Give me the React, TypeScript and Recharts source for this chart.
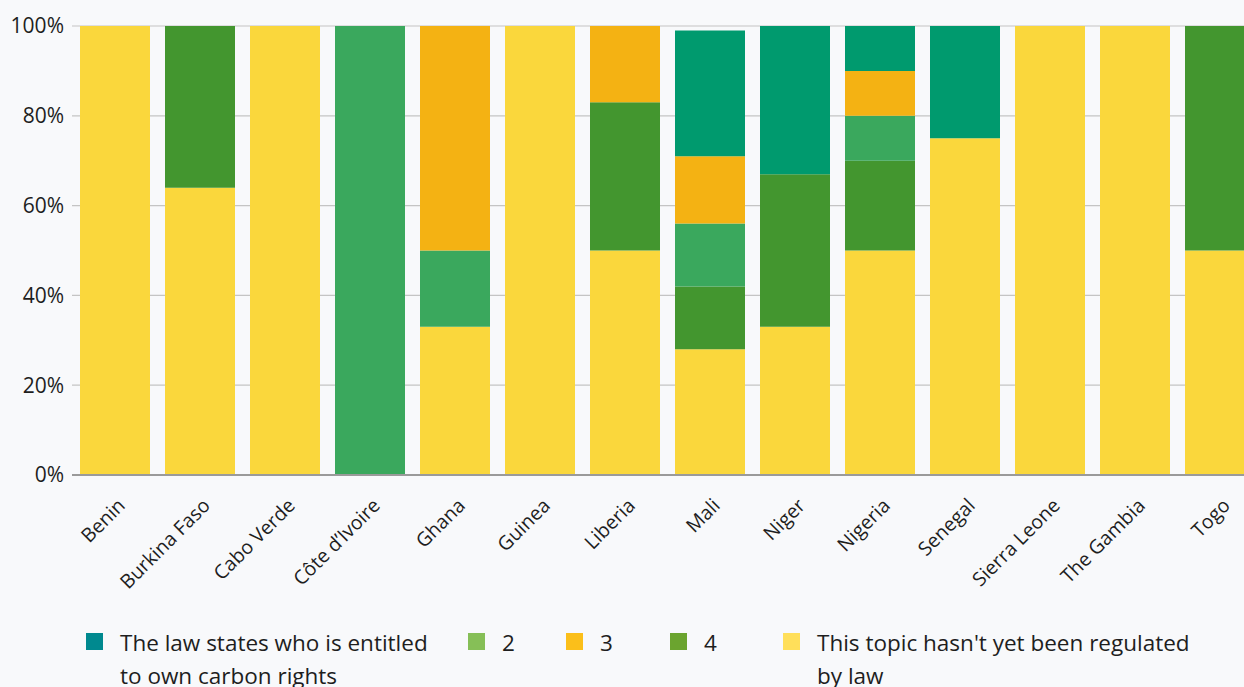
import React from 'react';
import { BarChart, Bar, XAxis, YAxis, CartesianGrid } from 'recharts';

const countries = [
  'Benin', 'Burkina Faso', 'Cabo Verde', 'Côte d’Ivoire', 'Ghana', 'Guinea', 'Liberia',
  'Mali', 'Niger', 'Nigeria', 'Senegal', 'Sierra Leone', 'The Gambia', 'Togo',
];

// stacked bottom -> top
const notRegulated = [100, 64, 100, 0, 33, 100, 50, 28, 33, 50, 75, 100, 100, 50];
const level4 = [0, 36, 0, 0, 0, 0, 33, 14, 34, 20, 0, 0, 0, 50];
const level2 = [0, 0, 0, 100, 17, 0, 0, 14, 0, 10, 0, 0, 0, 0];
const level3 = [0, 0, 0, 0, 50, 0, 17, 15, 0, 10, 0, 0, 0, 0];
const entitled = [0, 0, 0, 0, 0, 0, 0, 28, 33, 10, 25, 0, 0, 0];

const yTicks = [0, 20, 40, 60, 80, 100];

const legendItems = [
  { label: 'The law states who is entitled to own carbon rights', color: '#00898F', width: 382, textWidth: 322 },
  { label: '2', color: '#86BF57', width: 98, textWidth: 60 },
  { label: '3', color: '#FBBF1A', width: 104, textWidth: 60 },
  { label: '4', color: '#6BA42F', width: 113, textWidth: 60 },
  { label: "This topic hasn't yet been regulated by law", color: '#FFDF5A', width: 440, textWidth: 385 },
];

const data = countries.map((c, i) => ({
  country: c,
  notRegulated: notRegulated[i],
  level4: level4[i],
  level2: level2[i],
  level3: level3[i],
  entitled: entitled[i],
}));

const FONT = '"Open Sans", "DejaVu Sans", sans-serif';

const XTick = (props: any) => {
  const { x, y, payload } = props;
  const tx = x + 7;
  const ty = y + 19;
  return (
    <text
      x={tx}
      y={ty}
      dy="0.35em"
      transform={`rotate(-45 ${tx} ${ty})`}
      textAnchor="end"
      fill="#1e1e1e"
      fontSize={19.5}
      fontFamily={FONT}
    >
      {payload.value}
    </text>
  );
};

export default function App() {
  return (
    <div
      style={{
        position: 'absolute', left: 0, top: 0, width: 1244, height: 687,
        overflow: 'hidden', background: '#f8f9fb', fontFamily: FONT,
      }}
    >
      <BarChart
        width={1264}
        height={605}
        data={data}
        margin={{ top: 26, right: 2, left: 0, bottom: 0 }}
      >
        <CartesianGrid vertical={false} stroke="#c4c4c4" strokeWidth={1.2} />
        <XAxis
          dataKey="country"
          interval={0}
          height={130}
          tickLine={false}
          axisLine={{ stroke: '#9a9a9a', strokeWidth: 2 }}
          tick={<XTick />}
        />
        <YAxis
          width={72}
          domain={[0, 100]}
          ticks={yTicks}
          tickFormatter={(v: number) => `${v}%`}
          axisLine={false}
          tickLine={false}
          tick={{ fill: '#1e1e1e', fontSize: 21, fontFamily: FONT }}
        />
        <Bar dataKey="notRegulated" stackId="a" fill="#FAD73C" barSize={70} isAnimationActive={false} />
        <Bar dataKey="level4" stackId="a" fill="#43962F" barSize={70} isAnimationActive={false} />
        <Bar dataKey="level2" stackId="a" fill="#3AA85D" barSize={70} isAnimationActive={false} />
        <Bar dataKey="level3" stackId="a" fill="#F4B213" barSize={70} isAnimationActive={false} />
        <Bar dataKey="entitled" stackId="a" fill="#009A6E" barSize={70} isAnimationActive={false} />
      </BarChart>
      <div style={{ position: 'absolute', left: 86, top: 626, display: 'flex', alignItems: 'flex-start' }}>
        {legendItems.map((it) => (
          <div key={it.label} style={{ width: it.width, display: 'flex', alignItems: 'flex-start' }}>
            <div style={{ width: 17, height: 17, background: it.color, marginTop: 7, marginRight: 17, flexShrink: 0 }} />
            <div style={{ width: it.textWidth, fontSize: 22.5, lineHeight: '33px', color: '#1e1e1e' }}>{it.label}</div>
          </div>
        ))}
      </div>
    </div>
  );
}
